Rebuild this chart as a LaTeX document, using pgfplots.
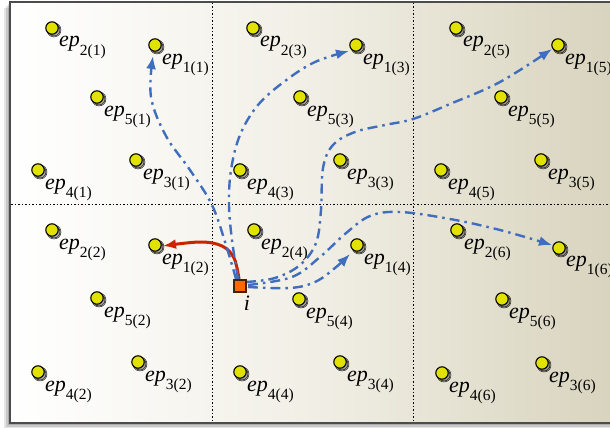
\documentclass[border=0pt]{standalone}
\usepackage{fontspec}
\setmainfont{Liberation Serif}
\usepackage{pgfplots}
\pgfplotsset{compat=1.18}
\usetikzlibrary{arrows.meta}
\definecolor{bgright}{RGB}{214,209,186}
\definecolor{dotyel}{RGB}{226,226,0}
\definecolor{arrblue}{RGB}{64,110,190}
\definecolor{arrred}{RGB}{204,34,0}
\definecolor{sqor}{RGB}{255,105,0}
\newcommand{\ep}[1]{{\fontsize{22}{24}\selectfont\textit{ep}\raisebox{-8.5pt}{\fontsize{15.5}{16}\selectfont #1}}}
\tikzset{bluearr/.style={arrblue, line width=2.4pt, dash pattern=on 10pt off 5pt on 2.5pt off 5pt, -{Latex[length=13pt,width=10pt]}, smooth, tension=0.6}}
\begin{document}
\begin{tikzpicture}
\begin{axis}[
  scale only axis, width=610pt, height=428pt,
  xmin=0, xmax=610, ymin=0, ymax=428, y dir=reverse,
  enlargelimits=false, axis lines=none, clip=false
]
% frame shadow
\fill[black, opacity=0.10] (axis cs:4,8) rectangle (axis cs:650,429);
\fill[black, opacity=0.12] (axis cs:6,6) rectangle (axis cs:650,427);
\fill[black, opacity=0.15] (axis cs:8,4) rectangle (axis cs:650,425);
% background
\shade[left color=white, right color=bgright, middle color={rgb,255:red,240;green,238;blue,228}] (axis cs:10,2) rectangle (axis cs:640,423);
\draw[black!70, line width=1.8pt] (axis cs:10,2) rectangle (axis cs:640,423);
% grid
\draw[black, line width=0.9pt, dash pattern=on 1.5pt off 2pt] (axis cs:212,3) -- (axis cs:212,422);
\draw[black, line width=0.9pt, dash pattern=on 1.5pt off 2pt] (axis cs:413,3) -- (axis cs:413,422);
\draw[black, line width=0.9pt, dash pattern=on 1.5pt off 2pt] (axis cs:11,204) -- (axis cs:640,204);

% dot shadows
\addplot[only marks, mark=*, mark size=7pt, mark options={draw=none, fill=black, fill opacity=0.12}] table {
x y
54 30
157 47
99 99
40 172
138 162
255 30
358 47
302 99
242 172
342 162
458 30
560 47
503 99
443 172
543 162
54 232
157 247
99 300
40 374
140 364
256 232
359 247
301 301
242 374
342 364
459 232
561 250
504 301
444 375
544 365
};
\addplot[only marks, mark=*, mark size=6pt, mark options={draw=none, fill=black, fill opacity=0.25}] table {
x y
54 30
157 47
99 99
40 172
138 162
255 30
358 47
302 99
242 172
342 162
458 30
560 47
503 99
443 172
543 162
54 232
157 247
99 300
40 374
140 364
256 232
359 247
301 301
242 374
342 364
459 232
561 250
504 301
444 375
544 365
};

% arrows
\addplot[arrred, line width=3pt, smooth, tension=0.6, -{Latex[length=13pt,width=10pt]}] coordinates {(239,279) (234,258) (222,246) (200,242) (163,246)};
\addplot[bluearr] coordinates {(236,279) (226,245) (212,205) (190,170) (166,136) (151,97) (153,56)};
\addplot[bluearr] coordinates {(238,279) (232,240) (229,205) (231,170) (240,135) (258,105) (285,81) (315,62) (349,51)};
\addplot[bluearr] coordinates {(246,282) (275,278) (300,265) (316,243) (321,210) (323,168) (333,145) (355,132) (385,125) (413,119) (450,104) (500,82) (552,49)};
\addplot[bluearr] coordinates {(248,287) (290,288) (315,282) (335,268) (350,254)};
\addplot[bluearr] coordinates {(248,285) (292,277) (320,257) (345,234) (370,216) (400,212) (450,219) (500,230) (552,245)};

% dots
\addplot[only marks, mark=*, mark size=6.2pt, mark options={draw=black, line width=1.1pt, fill=dotyel}] table {
x y
52 28
155 45
97 97
38 170
136 160
253 28
356 45
300 97
240 170
340 160
456 28
558 45
501 97
441 170
541 160
52 230
155 245
97 298
38 372
138 362
254 230
357 245
299 299
240 372
340 362
457 230
559 248
502 299
442 373
542 363
};
% node i
\addplot[only marks, mark=square*, mark size=6pt, mark options={draw={rgb,255:red,70;green,35;blue,0}, line width=1.1pt, fill=sqor}] coordinates {(240,286)};

% labels
\node[anchor=base west, inner sep=0pt] at (axis cs:59,47) {\ep{2(1)}};
\node[anchor=base west, inner sep=0pt] at (axis cs:162,64) {\ep{1(1)}};
\node[anchor=base west, inner sep=0pt] at (axis cs:104,116) {\ep{5(1)}};
\node[anchor=base west, inner sep=0pt] at (axis cs:45,189) {\ep{4(1)}};
\node[anchor=base west, inner sep=0pt] at (axis cs:143,179) {\ep{3(1)}};
\node[anchor=base west, inner sep=0pt] at (axis cs:260,47) {\ep{2(3)}};
\node[anchor=base west, inner sep=0pt] at (axis cs:363,64) {\ep{1(3)}};
\node[anchor=base west, inner sep=0pt] at (axis cs:307,116) {\ep{5(3)}};
\node[anchor=base west, inner sep=0pt] at (axis cs:247,189) {\ep{4(3)}};
\node[anchor=base west, inner sep=0pt] at (axis cs:347,179) {\ep{3(3)}};
\node[anchor=base west, inner sep=0pt] at (axis cs:463,47) {\ep{2(5)}};
\node[anchor=base west, inner sep=0pt] at (axis cs:565,64) {\ep{1(5)}};
\node[anchor=base west, inner sep=0pt] at (axis cs:508,116) {\ep{5(5)}};
\node[anchor=base west, inner sep=0pt] at (axis cs:448,189) {\ep{4(5)}};
\node[anchor=base west, inner sep=0pt] at (axis cs:548,179) {\ep{3(5)}};
\node[anchor=base west, inner sep=0pt] at (axis cs:59,249) {\ep{2(2)}};
\node[anchor=base west, inner sep=0pt] at (axis cs:162,264) {\ep{1(2)}};
\node[anchor=base west, inner sep=0pt] at (axis cs:104,317) {\ep{5(2)}};
\node[anchor=base west, inner sep=0pt] at (axis cs:45,391) {\ep{4(2)}};
\node[anchor=base west, inner sep=0pt] at (axis cs:145,381) {\ep{3(2)}};
\node[anchor=base west, inner sep=0pt] at (axis cs:261,249) {\ep{2(4)}};
\node[anchor=base west, inner sep=0pt] at (axis cs:364,264) {\ep{1(4)}};
\node[anchor=base west, inner sep=0pt] at (axis cs:306,318) {\ep{5(4)}};
\node[anchor=base west, inner sep=0pt] at (axis cs:247,391) {\ep{4(4)}};
\node[anchor=base west, inner sep=0pt] at (axis cs:347,381) {\ep{3(4)}};
\node[anchor=base west, inner sep=0pt] at (axis cs:464,249) {\ep{2(6)}};
\node[anchor=base west, inner sep=0pt] at (axis cs:566,266) {\ep{1(6)}};
\node[anchor=base west, inner sep=0pt] at (axis cs:509,318) {\ep{5(6)}};
\node[anchor=base west, inner sep=0pt] at (axis cs:449,392) {\ep{4(6)}};
\node[anchor=base west, inner sep=0pt] at (axis cs:549,382) {\ep{3(6)}};
\node[anchor=base, inner sep=0pt] at (axis cs:247,310) {\fontsize{22}{24}\selectfont\textit{i}};
\end{axis}
\pgfresetboundingbox
\useasboundingbox (current axis.south west) rectangle (current axis.north east);
\end{tikzpicture}
\end{document}
